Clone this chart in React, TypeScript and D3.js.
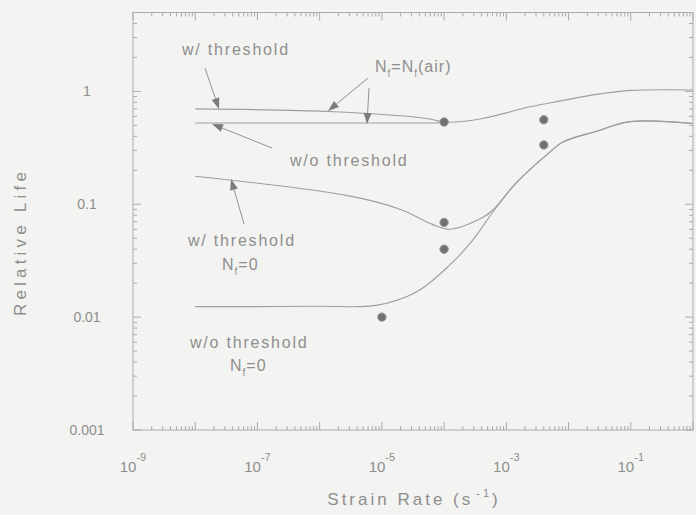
import React from 'react';
import * as d3 from 'd3';

const W = 696;
const H = 515;

// Model curves: [strain rate (1/s), relative life]
const withThresholdAir: [number, number][] = [
  [1e-8, 0.70], [1.7e-6, 0.66], [5.9e-5, 0.57], [1e-4, 0.535], [3.8e-4, 0.57],
  [2.4e-3, 0.73], [7.2e-3, 0.82], [3.2e-2, 0.95], [0.1, 1.02], [1, 1.03],
];
const withoutThresholdAir: [number, number][] = [
  [1e-8, 0.525], [1e-4, 0.525],
];
const withThresholdZero: [number, number][] = [
  [1e-8, 0.177], [3.1e-6, 0.118], [2e-5, 0.090], [6.6e-5, 0.066], [1.26e-4, 0.060],
  [4.3e-4, 0.077], [6.2e-4, 0.090], [1.48e-3, 0.157], [5e-3, 0.29], [8.1e-3, 0.356],
  [2.9e-2, 0.446], [0.098, 0.54], [1, 0.52],
];
const withoutThresholdZero: [number, number][] = [
  [1e-8, 0.0124], [1e-7, 0.0124], [1e-6, 0.0125], [8e-6, 0.0127], [3.7e-5, 0.0169],
  [1.26e-4, 0.0293], [2.95e-4, 0.0489], [6.2e-4, 0.0867], [1.48e-3, 0.157], [5e-3, 0.29],
  [8.1e-3, 0.356], [2.9e-2, 0.446], [0.098, 0.54], [1, 0.52],
];
// Test results
const testData: [number, number][] = [
  [1e-4, 0.535], [1e-4, 0.069], [1e-4, 0.040], [1e-5, 0.010], [4e-3, 0.56], [4e-3, 0.335],
];

const xExponents = [-9, -7, -5, -3, -1];
const yTickValues = [0.001, 0.01, 0.1, 1];
const yTickLabels = ['0.001', '0.01', '0.1', '1'];

const FONT = "'Liberation Sans', Arial, Helvetica, sans-serif";
const TEXT = '#8e8e8e';
const LINE = '#9e9e9e';
const AXIS = '#ababab';

const left = 133, right = 693, top = 12.5, bottom = 430;

function Arrow({ x1, y1, x2, y2 }: { x1: number; y1: number; x2: number; y2: number }) {
  const ang = Math.atan2(y2 - y1, x2 - x1);
  const len = 11, half = 4;
  const bx = x2 - len * Math.cos(ang), by = y2 - len * Math.sin(ang);
  const px = -Math.sin(ang) * half, py = Math.cos(ang) * half;
  return (
    <g>
      <line x1={x1} y1={y1} x2={bx} y2={by} stroke="#929292" strokeWidth={1} />
      <polygon points={`${x2},${y2} ${bx + px},${by + py} ${bx - px},${by - py}`} fill="#7c7c7c" />
    </g>
  );
}

export default function App() {
  const x = d3.scaleLog().domain([1e-9, 1]).range([left, right]);
  const y = d3.scaleLog().domain([0.001, 5]).range([bottom, top]);
  const line = d3.line<[number, number]>()
    .x(d => x(d[0]))
    .y(d => y(d[1]))
    .curve(d3.curveCatmullRom.alpha(0.5));

  const xMajor = d3.range(-9, 1).map(e => Math.pow(10, e));
  const xMinor: number[] = [];
  d3.range(-9, 0).forEach(e => { for (let m = 2; m <= 9; m++) xMinor.push(m * Math.pow(10, e)); });
  const yMajor = yTickValues;
  const yMinor: number[] = [];
  d3.range(-3, 1).forEach(e => { for (let m = 2; m <= 9; m++) { const v = m * Math.pow(10, e); if (v < 5) yMinor.push(v); } });

  const curves = [withThresholdAir, withoutThresholdAir, withThresholdZero, withoutThresholdZero];

  return (
    <svg width={W} height={H} style={{ position: 'absolute', left: 0, top: 0 }} fontFamily={FONT}>
      <rect x={0} y={0} width={W} height={H} fill="#f3f3f1" />

      {/* frame */}
      <rect x={left} y={top} width={right - left} height={bottom - top} fill="none" stroke={AXIS} strokeWidth={1} />

      {/* x ticks, bottom and top */}
      {xMajor.map((v, i) => (
        <g key={'xM' + i}>
          <line x1={x(v)} x2={x(v)} y1={bottom} y2={bottom - 8} stroke={AXIS} />
          <line x1={x(v)} x2={x(v)} y1={top} y2={top + 8} stroke={AXIS} />
        </g>
      ))}
      {xMinor.map((v, i) => (
        <g key={'xm' + i}>
          <line x1={x(v)} x2={x(v)} y1={bottom} y2={bottom - 4} stroke={AXIS} />
          <line x1={x(v)} x2={x(v)} y1={top} y2={top + 4} stroke={AXIS} />
        </g>
      ))}
      {/* y ticks, left and right */}
      {yMajor.map((v, i) => (
        <g key={'yM' + i}>
          <line x1={left} x2={left + 8} y1={y(v)} y2={y(v)} stroke={AXIS} />
          <line x1={right} x2={right - 8} y1={y(v)} y2={y(v)} stroke={AXIS} />
        </g>
      ))}
      {yMinor.map((v, i) => (
        <g key={'ym' + i}>
          <line x1={left} x2={left + 4} y1={y(v)} y2={y(v)} stroke={AXIS} />
          <line x1={right} x2={right - 4} y1={y(v)} y2={y(v)} stroke={AXIS} />
        </g>
      ))}

      {/* x tick labels */}
      {xExponents.map(e => (
        <text key={'xl' + e} x={x(Math.pow(10, e))} y={472} fill={TEXT} fontSize={15} textAnchor="middle">
          10<tspan dy={-11} fontSize={11}>{e}</tspan>
        </text>
      ))}
      {/* y tick labels */}
      {yTickValues.map((v, i) => (
        <text key={'yl' + i} x={87} y={y(v) + 5} fill={TEXT} fontSize={14} textAnchor="middle">
          {yTickLabels[i]}
        </text>
      ))}

      {/* axis titles */}
      <text x={414} y={505} fill={TEXT} fontSize={17} letterSpacing={3} textAnchor="middle">
        Strain Rate (s<tspan dx={3} dy={-8} fontSize={11}>-1</tspan><tspan dy={8}>)</tspan>
      </text>
      <text transform="translate(26,242) rotate(-90)" fill={TEXT} fontSize={17} letterSpacing={4.2} textAnchor="middle">
        Relative  Life
      </text>

      {/* curves */}
      {curves.map((c, i) => (
        <path key={'c' + i} d={line(c) || ''} fill="none" stroke={LINE} strokeWidth={1.1} />
      ))}

      {/* test points */}
      {testData.map((d, i) => (
        <circle key={'p' + i} cx={x(d[0])} cy={y(d[1])} r={4.2} fill="#707070" stroke="#9a9a9a" strokeWidth={1} />
      ))}

      {/* annotations */}
      <text x={182} y={55} fill={TEXT} fontSize={16} letterSpacing={1.8}>w/ threshold</text>
      <Arrow x1={205} y1={68} x2={219} y2={109} />

      <text x={375} y={72} fill={TEXT} fontSize={16} letterSpacing={1}>
        N<tspan dy={5} fontSize={10}>f</tspan><tspan dy={-5}>=N</tspan><tspan dy={5} fontSize={10}>f</tspan><tspan dy={-5}>(air)</tspan>
      </text>
      <Arrow x1={368} y1={78} x2={328} y2={111} />
      <Arrow x1={369} y1={88} x2={367} y2={124} />

      <text x={290} y={166} fill={TEXT} fontSize={16} letterSpacing={1.8}>w/o threshold</text>
      <Arrow x1={272} y1={148} x2={212} y2={124} />

      <text x={188} y={246} fill={TEXT} fontSize={16} letterSpacing={1.8}>w/ threshold</text>
      <text x={222} y={270} fill={TEXT} fontSize={16} letterSpacing={1}>
        N<tspan dy={5} fontSize={10}>f</tspan><tspan dy={-5}>=0</tspan>
      </text>
      <Arrow x1={244} y1={224} x2={231} y2={179} />

      <text x={190} y={348} fill={TEXT} fontSize={16} letterSpacing={1.8}>w/o threshold</text>
      <text x={230} y={371} fill={TEXT} fontSize={16} letterSpacing={1}>
        N<tspan dy={5} fontSize={10}>f</tspan><tspan dy={-5}>=0</tspan>
      </text>
    </svg>
  );
}
